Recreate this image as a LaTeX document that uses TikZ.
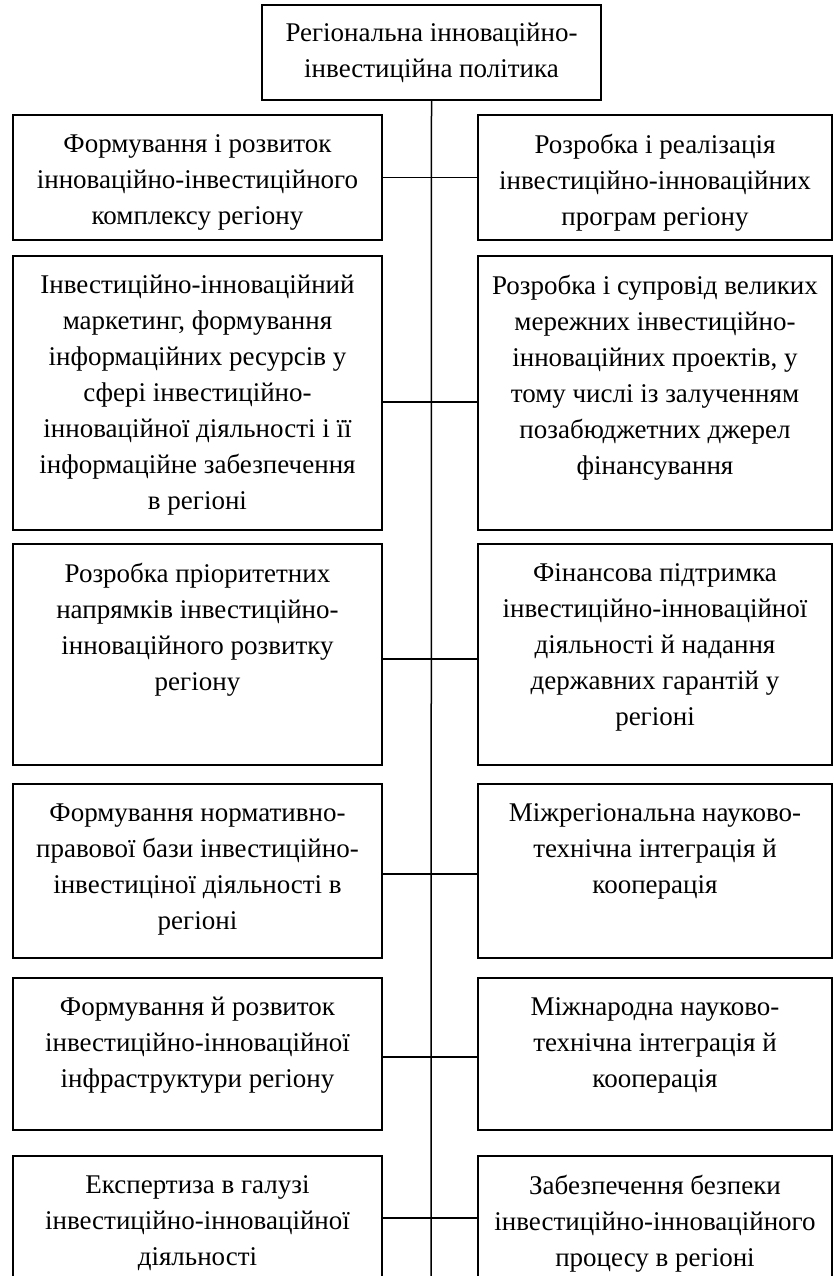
\documentclass[tikz,border=0pt]{standalone}
\usepackage{fontspec}
\setmainfont{Liberation Serif}
\begin{document}
\begin{tikzpicture}[x=1pt,y=-1pt,
  box/.style={draw,line width=1.5pt,inner sep=0pt},
  lbox/.style={box,minimum width=369pt},
  rbox/.style={box,minimum width=354pt},
  txt/.style={align=center,inner sep=0pt,font=\fontsize{27}{36}\selectfont}]
\useasboundingbox (0,0) rectangle (833,1276);
% top
\node[box,minimum width=339pt,minimum height=95pt] (top) at (431.5,52.5) {};
\node[txt] (toptxt) at (top.center) {Регіональна інноваційно-\\інвестиційна політика};
\coordinate (bot) at (431,1276);
\draw[line width=1.5pt] (top.south) -- (bot);
% joints on the spine
\coordinate (j1) at (431,177.5);
\coordinate (j2) at (431,402);
\coordinate (j3) at (431,659);
\coordinate (j4) at (431,874);
\coordinate (j5) at (431,1057);
\coordinate (j6) at (431,1218);
% row 1
\node[lbox,minimum height=125pt] (l1) at (197.5,177.5) {};
\node[rbox,minimum height=125pt] (r1) at (655,177.5) {};
\node[txt,anchor=north] (l1t) at ([yshift=-20pt]l1.north) {Формування і розвиток\\інноваційно-інвестиційного\\комплексу регіону};
\node[txt,anchor=north] (r1t) at ([yshift=-20pt]r1.north) {Розробка і реалізація\\інвестиційно-інноваційних\\програм регіону};
\draw[line width=1.5pt] (l1.east |- j1) -- (r1.west |- j1);
% row 2
\node[lbox,minimum height=274pt] (l2) at (197.5,393) {};
\node[rbox,minimum height=274pt] (r2) at (655,393) {};
\node[txt,anchor=north] (l2t) at ([yshift=-20pt]l2.north) {Інвестиційно-інноваційний\\маркетинг, формування\\інформаційних ресурсів у\\сфері інвестиційно-\\інноваційної діяльності і її\\інформаційне забезпечення\\в регіоні};
\node[txt,anchor=north] (r2t) at ([yshift=-20pt]r2.north) {Розробка і супровід великих\\мережних інвестиційно-\\інноваційних проектів, у\\тому числі із залученням\\позабюджетних джерел\\фінансування};
\draw[line width=1.5pt] (l2.east |- j2) -- (r2.west |- j2);
% row 3
\node[lbox,minimum height=221pt] (l3) at (197.5,654.5) {};
\node[rbox,minimum height=221pt] (r3) at (655,654.5) {};
\node[txt,anchor=north] (l3t) at ([yshift=-20pt]l3.north) {Розробка пріоритетних\\напрямків інвестиційно-\\інноваційного розвитку\\регіону};
\node[txt,anchor=north] (r3t) at ([yshift=-20pt]r3.north) {Фінансова підтримка\\інвестиційно-інноваційної\\діяльності й надання\\державних гарантій у\\регіоні};
\draw[line width=1.5pt] (l3.east |- j3) -- (r3.west |- j3);
% row 4
\node[lbox,minimum height=174pt] (l4) at (197.5,871) {};
\node[rbox,minimum height=174pt] (r4) at (655,871) {};
\node[txt,anchor=north] (l4t) at ([yshift=-20pt]l4.north) {Формування нормативно-\\правової бази інвестиційно-\\інвестиціної діяльності в\\регіоні};
\node[txt,anchor=north] (r4t) at ([yshift=-20pt]r4.north) {Міжрегіональна науково-\\технічна інтеграція й\\кооперація};
\draw[line width=1.5pt] (l4.east |- j4) -- (r4.west |- j4);
% row 5
\node[lbox,minimum height=152pt] (l5) at (197.5,1054) {};
\node[rbox,minimum height=152pt] (r5) at (655,1054) {};
\node[txt,anchor=north] (l5t) at ([yshift=-20pt]l5.north) {Формування й розвиток\\інвестиційно-інноваційної\\інфраструктури регіону};
\node[txt,anchor=north] (r5t) at ([yshift=-20pt]r5.north) {Міжнародна науково-\\технічна інтеграція й\\кооперація};
\draw[line width=1.5pt] (l5.east |- j5) -- (r5.west |- j5);
% row 6
\node[lbox,minimum height=124pt] (l6) at (197.5,1218) {};
\node[rbox,minimum height=124pt] (r6) at (655,1218) {};
\node[txt,anchor=north] (l6t) at ([yshift=-20pt]l6.north) {Експертиза в галузі\\інвестиційно-інноваційної\\діяльності};
\node[txt,anchor=north] (r6t) at ([yshift=-20pt]r6.north) {Забезпечення безпеки\\інвестиційно-інноваційного\\процесу в регіоні};
\draw[line width=1.5pt] (l6.east |- j6) -- (r6.west |- j6);
\end{tikzpicture}
\end{document}
